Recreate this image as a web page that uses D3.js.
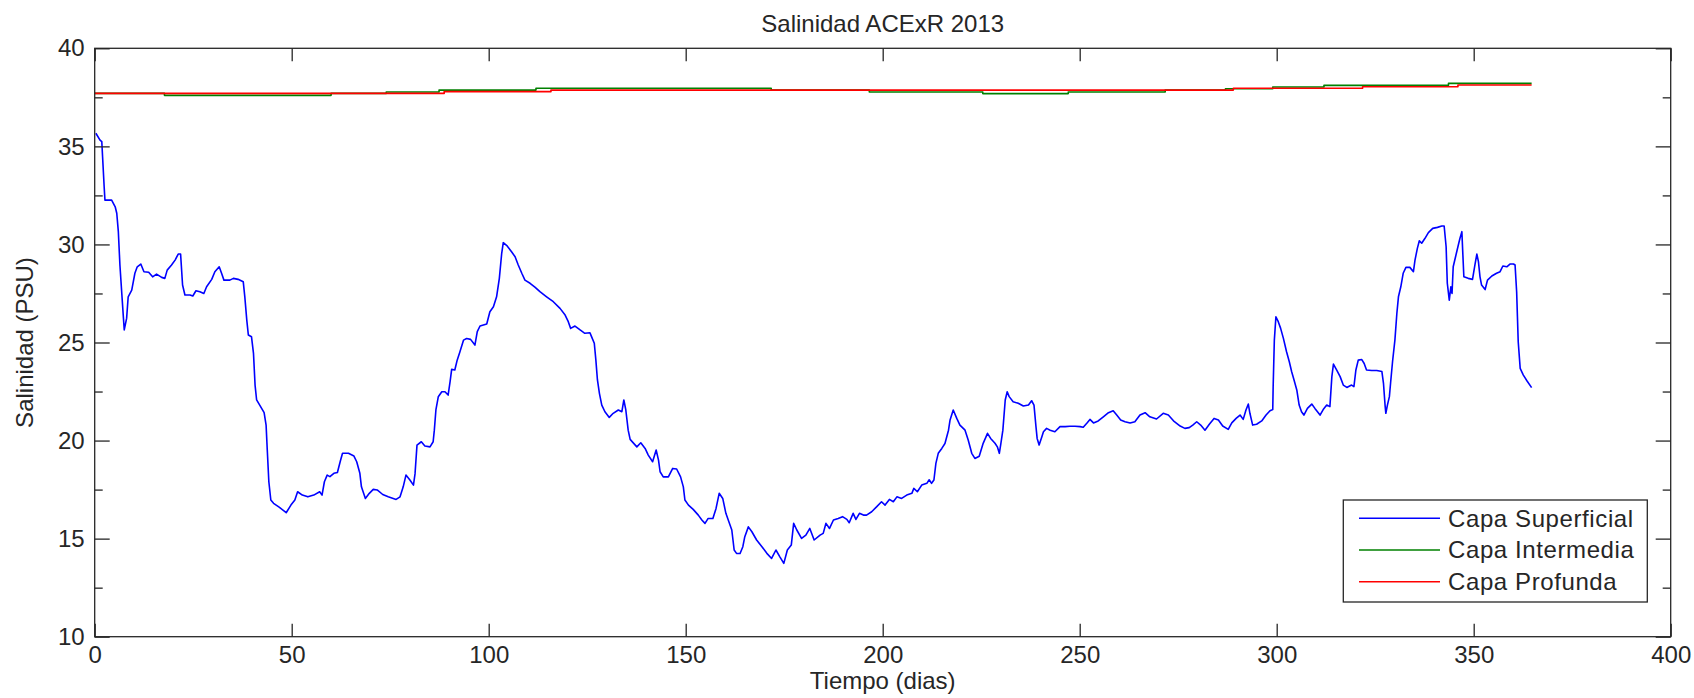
<!DOCTYPE html>
<html>
<head>
<meta charset="utf-8">
<title>Salinidad ACExR 2013</title>
<script src="https://cdn.jsdelivr.net/npm/d3@7"></script>
<style>
  body { margin: 0; background: #fff; }
  svg text { font-family: "Liberation Sans", Arial, sans-serif; fill: #262626; }
</style>
</head>
<body>
<script>
// chart texts
var title = 'Salinidad ACExR 2013';
var xTitle = 'Tiempo (dias)';
var yTitle = 'Salinidad (PSU)';
var seriesNames = [ 'Capa Superficial', 'Capa Intermedia', 'Capa Profunda' ];
var seriesColors = [ '#0000ff', '#008000', '#ff0000' ];

// tick values
var xTicks = [ 0, 50, 100, 150, 200, 250, 300, 350, 400 ];
var yTicks = [ 10, 15, 20, 25, 30, 35, 40 ];
var yMinorTicks = [ 12.5, 17.5, 22.5, 27.5, 32.5, 37.5 ];

// surface layer, [day, salinity]
var surfaceLayer = [
  [0.3,35.67],[1.35,35.32],[1.8,35.24],[2.0,34.47],[2.4,32.94],[2.6,32.26],[4.3,32.26],[5.2,31.92],
  [5.6,31.59],[6.0,30.65],[6.4,28.95],[6.9,27.42],[7.3,26.23],[7.5,25.64],[8.1,26.23],[8.5,27.33],
  [9.4,27.67],[10.2,28.53],[10.8,28.86],[11.7,29.0],[12.5,28.61],[13.7,28.58],[14.7,28.35],[15.7,28.49],
  [17.0,28.32],[17.8,28.27],[18.4,28.69],[19.5,28.95],[20.4,29.2],[21.2,29.51],[21.8,29.51],[22.3,27.93],
  [22.9,27.42],[24.2,27.42],[24.9,27.37],[25.7,27.64],[26.7,27.59],[27.7,27.5],[28.4,27.84],[29.7,28.22],
  [30.5,28.61],[31.6,28.86],[32.2,28.53],[32.8,28.18],[34.3,28.18],[35.2,28.27],[36.4,28.22],[37.7,28.1],
  [38.1,27.33],[38.6,26.14],[39.0,25.38],[39.8,25.29],[40.3,24.45],[40.7,22.83],[41.1,22.07],[43.0,21.42],
  [43.5,20.79],[43.8,19.52],[44.2,17.9],[44.7,16.97],[45.4,16.8],[46.9,16.59],[48.6,16.32],[49.8,16.71],
  [50.8,16.97],[51.5,17.39],[52.7,17.22],[54.1,17.13],[55.6,17.22],[57.1,17.39],[57.7,17.22],[58.3,17.9],
  [59.0,18.24],[59.7,18.16],[60.7,18.33],[61.6,18.37],[62.4,19.0],[62.9,19.35],[64.4,19.35],[65.8,19.21],
  [66.5,18.92],[67.3,18.33],[67.7,17.64],[68.7,17.05],[69.7,17.31],[70.7,17.51],[71.7,17.48],[73.1,17.25],
  [74.5,17.13],[76.5,17.0],[77.5,17.13],[78.3,17.64],[79.0,18.24],[80.0,17.99],[80.9,17.73],[81.3,18.3],
  [81.8,19.77],[82.9,19.94],[83.8,19.72],[85.1,19.68],[85.9,19.94],[86.2,20.53],[86.6,21.56],[87.2,22.23],
  [88.1,22.49],[88.9,22.49],[89.7,22.32],[90.2,23.0],[90.6,23.63],[91.4,23.6],[92.0,24.1],[92.7,24.53],
  [93.6,25.12],[94.4,25.2],[95.4,25.16],[96.5,24.87],[97.1,25.55],[97.8,25.84],[99.5,25.94],[100.3,26.57],
  [101.2,26.82],[102.0,27.33],[102.7,28.27],[103.3,29.55],[103.7,30.09],[104.6,29.94],[105.8,29.63],[106.7,29.37],
  [107.5,28.95],[108.4,28.53],[109.2,28.18],[110.5,28.02],[111.8,27.81],[113.0,27.59],[114.7,27.33],[116.4,27.08],
  [118.1,26.74],[119.4,26.4],[120.2,26.06],[120.8,25.72],[121.9,25.84],[123.2,25.64],[124.4,25.47],[125.7,25.5],
  [126.1,25.3],[126.8,24.96],[127.2,24.1],[127.6,23.09],[128.1,22.41],[128.7,21.81],[129.5,21.47],[130.6,21.18],
  [131.6,21.39],[132.9,21.56],[133.8,21.47],[134.3,22.07],[134.8,21.56],[135.4,20.53],[135.9,20.06],[137.6,19.68],
  [138.6,19.89],[139.7,19.6],[140.5,19.26],[141.6,18.92],[142.5,19.52],[143.1,19.0],[143.5,18.41],[144.3,18.15],
  [145.6,18.15],[146.7,18.58],[147.7,18.55],[148.7,18.15],[149.4,17.64],[149.8,16.97],[150.7,16.71],[151.9,16.49],
  [153.2,16.2],[154.1,15.95],[154.9,15.78],[155.7,16.03],[156.9,16.03],[157.7,16.54],[158.5,17.31],[159.4,17.05],
  [160.2,16.29],[160.8,15.95],[161.7,15.44],[162.3,14.42],[162.9,14.25],[163.8,14.24],[164.5,14.59],[165.0,15.1],
  [165.9,15.6],[166.8,15.35],[168.0,14.93],[169.5,14.55],[170.6,14.25],[171.8,13.99],[172.9,14.42],[173.9,14.07],
  [174.9,13.74],[175.8,14.42],[176.8,14.67],[177.4,15.78],[178.2,15.44],[179.4,15.01],[180.5,15.18],[181.5,15.52],
  [182.6,14.93],[184.1,15.18],[184.9,15.27],[185.6,15.78],[186.5,15.52],[187.5,15.95],[188.7,16.03],[189.8,16.12],
  [190.9,15.98],[191.5,15.81],[192.5,16.29],[193.2,15.98],[194.1,16.29],[195.1,16.2],[195.9,16.2],[197.2,16.37],
  [198.5,16.63],[199.7,16.88],[200.6,16.71],[201.7,17.0],[202.7,16.88],[203.6,17.13],[204.8,17.05],[206.1,17.22],
  [207.4,17.31],[207.9,17.56],[208.8,17.39],[209.9,17.73],[211.2,17.82],[211.8,18.0],[212.4,17.82],[213.0,17.99],
  [213.5,18.84],[214.1,19.35],[215.0,19.6],[215.8,19.85],[216.7,20.53],[217.1,21.05],[217.9,21.56],[218.8,21.13],
  [219.6,20.79],[220.9,20.53],[221.7,20.03],[222.6,19.35],[223.4,19.09],[224.5,19.2],[225.5,19.86],[226.6,20.37],
  [227.4,20.11],[228.5,19.86],[229.1,19.68],[229.6,19.35],[230.0,19.86],[230.5,20.53],[231.1,22.07],[231.6,22.49],
  [232.1,22.24],[233.1,21.98],[234.4,21.9],[235.7,21.76],[237.0,21.81],[237.8,22.03],[238.4,21.81],[238.9,20.71],
  [239.2,20.11],[239.7,19.77],[240.4,20.2],[240.8,20.45],[241.6,20.62],[242.5,20.53],[243.7,20.45],[245.0,20.71],
  [246.3,20.71],[247.5,20.73],[248.8,20.73],[250.1,20.71],[250.9,20.68],[251.8,20.88],[252.6,21.08],[253.5,20.9],
  [254.7,21.0],[256.0,21.21],[257.3,21.42],[258.5,21.52],[259.4,21.3],[260.4,21.05],[261.5,20.96],[262.8,20.9],
  [264.0,20.96],[265.3,21.3],[266.6,21.42],[267.8,21.21],[269.5,21.1],[271.2,21.39],[272.5,21.3],[273.8,21.01],
  [275.5,20.74],[276.7,20.62],[277.8,20.66],[278.7,20.79],[279.7,20.96],[280.7,20.79],[281.8,20.53],[282.9,20.83],
  [284.1,21.13],[285.2,21.05],[286.3,20.74],[287.7,20.57],[288.6,20.9],[289.7,21.13],[290.7,21.3],[291.5,21.08],
  [292.2,21.56],[292.8,21.86],[293.2,21.39],[293.9,20.79],[294.9,20.83],[296.2,21.0],[297.3,21.3],[298.3,21.52],
  [299.0,21.58],[299.1,22.74],[299.4,25.12],[299.8,26.31],[300.4,26.06],[301.0,25.72],[301.7,25.21],[302.5,24.53],
  [303.2,24.02],[303.8,23.51],[304.4,23.09],[305.1,22.58],[305.7,21.81],[306.3,21.47],[306.9,21.3],[307.8,21.64],
  [308.9,21.86],[309.7,21.64],[311.0,21.3],[311.8,21.58],[312.7,21.81],[313.5,21.73],[314.0,23.26],[314.4,23.9],
  [315.2,23.6],[316.1,23.26],[316.9,22.83],[317.8,22.71],[319.0,22.83],[319.6,22.75],[320.1,23.6],[320.7,24.1],
  [321.6,24.13],[322.2,23.93],[322.8,23.6],[324.1,23.57],[325.4,23.57],[326.7,23.52],[327.1,22.92],[327.5,21.81],
  [327.7,21.39],[328.1,21.81],[328.6,22.24],[328.9,22.92],[329.4,24.02],[330.0,25.12],[330.5,26.49],[330.9,27.33],
  [331.5,27.84],[332.1,28.53],[332.8,28.83],[333.8,28.83],[334.7,28.61],[335.1,29.2],[335.7,29.8],[336.2,30.19],
  [336.8,30.06],[337.6,30.3],[338.5,30.6],[339.6,30.82],[340.8,30.87],[341.9,30.94],[342.5,30.94],[343.0,29.88],
  [343.3,28.02],[343.8,27.16],[344.2,27.84],[344.5,27.5],[344.8,28.86],[345.5,29.46],[346.1,29.97],[346.5,30.3],
  [347.0,30.65],[347.2,29.71],[347.5,28.35],[348.6,28.27],[349.7,28.22],[350.3,28.95],[350.8,29.51],[351.2,29.12],
  [351.6,28.35],[352.0,27.93],[352.9,27.7],[353.5,28.18],[354.6,28.39],[355.8,28.53],[356.7,28.61],[357.4,28.9],
  [358.4,28.86],[359.2,29.0],[360.1,29.0],[360.5,28.95],[360.9,27.59],[361.1,26.31],[361.3,25.04],[361.8,23.68],
  [362.6,23.34],[363.5,23.05],[364.7,22.7]
];

// intermediate and deep layers are step series: [start day, salinity]
var middleLayer = [
  [0,37.70],[17.7,37.60],[60,37.70],[74,37.77],[87.4,37.87],[112,37.96],[171.7,37.87],[196.6,37.77],
  [225.4,37.69],[247.1,37.77],[271.7,37.87],[287,37.94],[299,38.03],[312,38.11],[343.6,38.21]
];
var deepLayer = [
  [0,37.70],[88.7,37.79],[115.8,37.87],[289,37.96],[321.8,38.04],[346,38.13]
];
var lastDay = 364.7;

var Chart = {
  w : 1694,
  h : 698,
  // plot box in page pixels
  left : 94.7,
  right : 1670.7,
  top : 48.3,
  bottom : 636.7,
  axisColor : '#262626',
  svg : {},
  x : {},
  y : {}
};

Chart.setup = function() {
  this.svg = d3.select( 'body' )
               .append( 'svg' )
               .attr( 'width', this.w )
               .attr( 'height', this.h );

  this.x = d3.scaleLinear().domain( [ 0, 400 ] ).range( [ this.left, this.right ] );
  this.y = d3.scaleLinear().domain( [ 10, 40 ] ).range( [ this.bottom, this.top ] );
};

// one axis side: major or minor ticks, labels optional
Chart.drawAxis = function( axis, transform, showLabels, padding ) {
  var g = this.svg.append( 'g' )
                  .attr( 'transform', transform )
                  .call( axis );
  g.select( '.domain' ).remove();
  g.selectAll( 'line' )
   .attr( 'stroke', this.axisColor )
   .attr( 'stroke-width', 1.3 );
  if ( showLabels ) {
    g.selectAll( 'text' )
     .style( 'font-size', '24px' )
     .attr( 'fill', this.axisColor );
  } else {
    g.selectAll( 'text' ).remove();
  }
  return g;
};

Chart.drawAxes = function() {
  var x = this.x, y = this.y;

  this.drawAxis( d3.axisBottom( x ).tickValues( xTicks ).tickSizeInner( -13 ).tickSizeOuter( 0 ).tickPadding( 9 ),
                 'translate(0,' + this.bottom + ')', true );
  this.drawAxis( d3.axisTop( x ).tickValues( xTicks ).tickSizeInner( -13 ).tickSizeOuter( 0 ),
                 'translate(0,' + this.top + ')', false );

  this.drawAxis( d3.axisLeft( y ).tickValues( yTicks ).tickSizeInner( -15 ).tickSizeOuter( 0 ).tickPadding( 10 ),
                 'translate(' + this.left + ',0)', true );
  this.drawAxis( d3.axisRight( y ).tickValues( yTicks ).tickSizeInner( -15 ).tickSizeOuter( 0 ),
                 'translate(' + this.right + ',0)', false );

  // shorter ticks between the labelled ones
  this.drawAxis( d3.axisLeft( y ).tickValues( yMinorTicks ).tickSizeInner( -8 ).tickSizeOuter( 0 ),
                 'translate(' + this.left + ',0)', false );
  this.drawAxis( d3.axisRight( y ).tickValues( yMinorTicks ).tickSizeInner( -8 ).tickSizeOuter( 0 ),
                 'translate(' + this.right + ',0)', false );

  // box round the plot
  this.svg.append( 'rect' )
          .attr( 'x', this.left )
          .attr( 'y', this.top )
          .attr( 'width', this.right - this.left )
          .attr( 'height', this.bottom - this.top )
          .attr( 'fill', 'none' )
          .attr( 'stroke', this.axisColor )
          .attr( 'stroke-width', 1.3 );
};

Chart.drawSeries = function() {
  var x = this.x, y = this.y;
  var line = d3.line()
               .x( function( d ) { return x( d[0] ); } )
               .y( function( d ) { return y( d[1] ); } );
  var stepLine = d3.line()
                   .curve( d3.curveStepAfter )
                   .x( function( d ) { return x( d[0] ); } )
                   .y( function( d ) { return y( d[1] ); } );

  // close each step series at the last day
  var withEnd = function( steps ) {
    return steps.concat( [ [ lastDay, steps[ steps.length - 1 ][1] ] ] );
  };

  var plots = [
    { d : line( surfaceLayer ), color : seriesColors[0] },
    { d : stepLine( withEnd( middleLayer ) ), color : seriesColors[1] },
    { d : stepLine( withEnd( deepLayer ) ), color : seriesColors[2] }
  ];

  this.svg.append( 'g' )
          .selectAll( 'path' )
          .data( plots )
          .enter()
          .append( 'path' )
          .attr( 'd', function( p ) { return p.d; } )
          .attr( 'fill', 'none' )
          .attr( 'stroke', function( p ) { return p.color; } )
          .attr( 'stroke-width', 1.6 )
          .attr( 'stroke-linejoin', 'round' );
};

Chart.drawTexts = function() {
  var midX = ( this.left + this.right ) / 2,
      midY = ( this.top + this.bottom ) / 2;

  this.svg.append( 'text' )
          .attr( 'x', midX )
          .attr( 'y', 32 )
          .attr( 'text-anchor', 'middle' )
          .style( 'font-size', '24px' )
          .text( title );

  this.svg.append( 'text' )
          .attr( 'x', midX )
          .attr( 'y', 689 )
          .attr( 'text-anchor', 'middle' )
          .style( 'font-size', '24px' )
          .text( xTitle );

  this.svg.append( 'text' )
          .attr( 'transform', 'translate(33,' + midY + ') rotate(-90)' )
          .attr( 'text-anchor', 'middle' )
          .style( 'font-size', '24px' )
          .text( yTitle );
};

Chart.drawLegend = function() {
  var box = { x : 1343.3, y : 500, w : 304, h : 102 },
      rowY = [ 518.3, 550, 581.7 ];

  var g = this.svg.append( 'g' );
  g.append( 'rect' )
   .attr( 'x', box.x )
   .attr( 'y', box.y )
   .attr( 'width', box.w )
   .attr( 'height', box.h )
   .attr( 'fill', '#fff' )
   .attr( 'stroke', this.axisColor )
   .attr( 'stroke-width', 1.3 );

  var rows = g.selectAll( 'g.row' )
              .data( seriesNames )
              .enter()
              .append( 'g' )
              .attr( 'class', 'row' )
              .attr( 'transform', function( d, i ) { return 'translate(0,' + rowY[i] + ')'; } );

  rows.append( 'line' )
      .attr( 'x1', 1359 )
      .attr( 'x2', 1440 )
      .attr( 'stroke', function( d, i ) { return seriesColors[i]; } )
      .attr( 'stroke-width', 1.6 );

  rows.append( 'text' )
      .attr( 'x', 1448 )
      .attr( 'dy', '0.35em' )
      .style( 'font-size', '24px' )
      .style( 'letter-spacing', '0.6px' )
      .text( function( d ) { return d; } );
};

Chart.init = function() {
  this.setup();
  this.drawSeries();
  this.drawAxes();
  this.drawLegend();
  this.drawTexts();
};

Chart.init();
</script>
</body>
</html>
